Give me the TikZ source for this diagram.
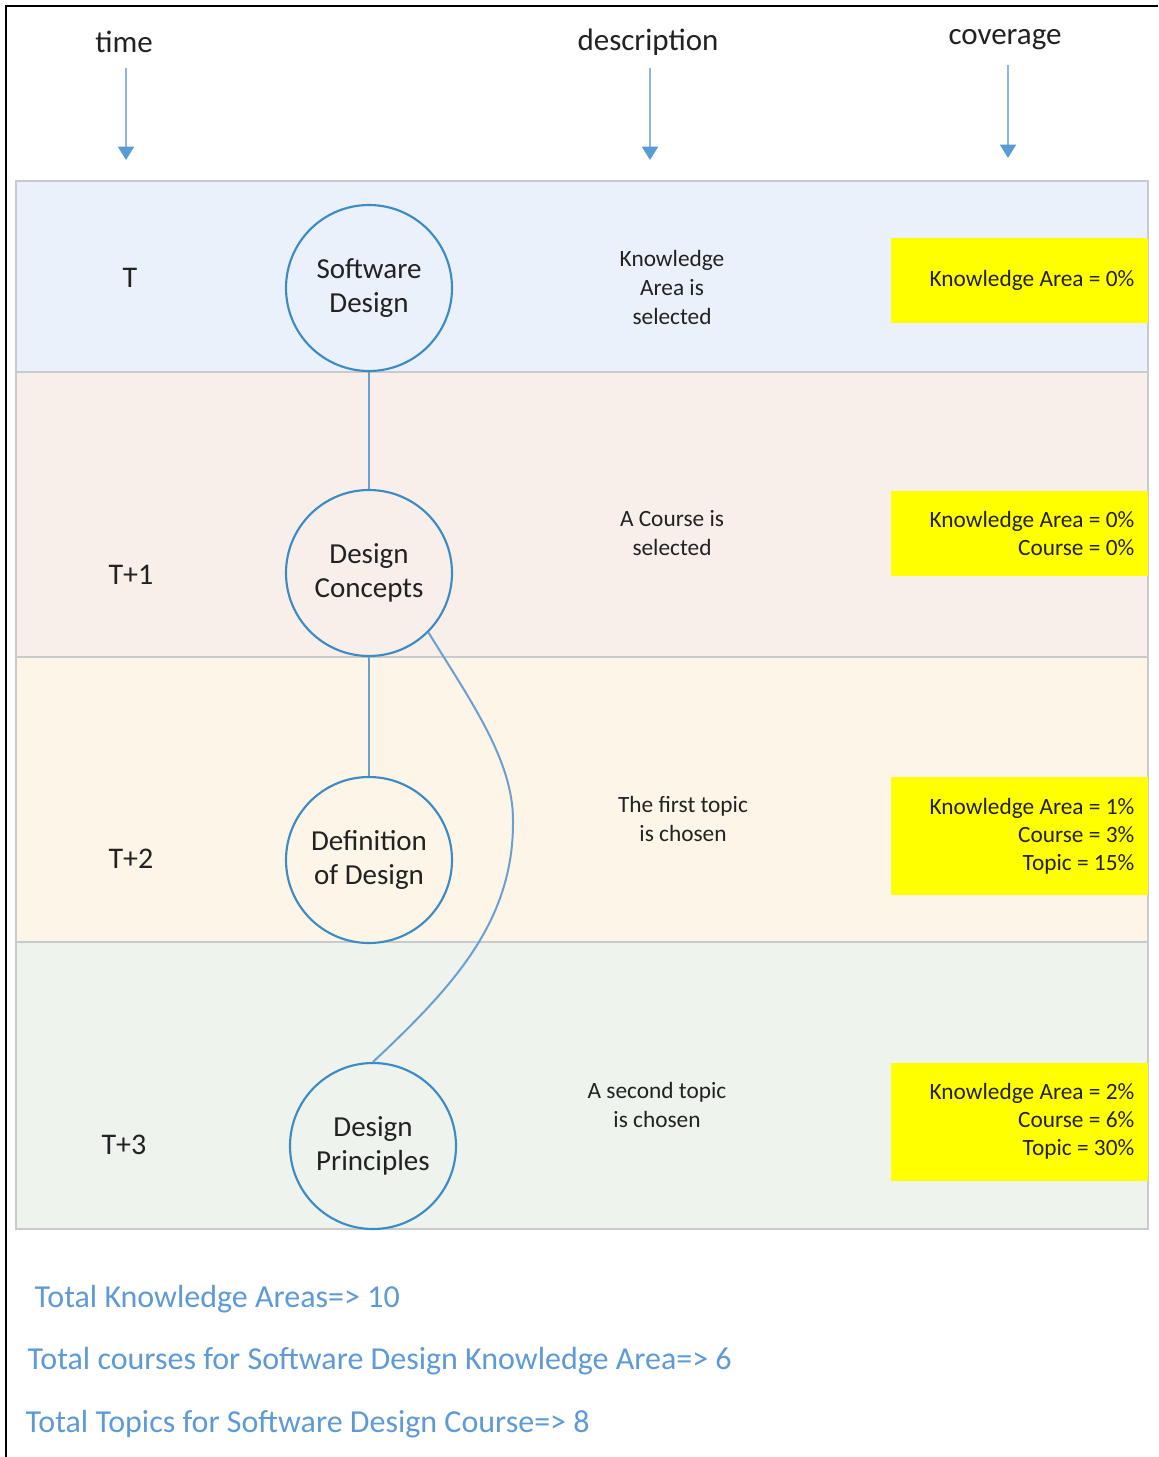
\documentclass[tikz,border=0pt]{standalone}
\usepackage{fontspec}
\setmainfont{Carlito}
\usetikzlibrary{arrows.meta}
\definecolor{bandblue}{HTML}{EAF1FA}
\definecolor{bandpink}{HTML}{F8EFEA}
\definecolor{bandcream}{HTML}{FDF5E7}
\definecolor{bandgreen}{HTML}{EEF3EE}
\definecolor{bandedge}{HTML}{C8CACB}
\definecolor{ringblue}{HTML}{3D8BC4}
\definecolor{linkblue}{HTML}{6A9FD0}
\definecolor{arrowline}{HTML}{8DB4E2}
\definecolor{arrowhead}{HTML}{5B9BD5}
\definecolor{notecol}{HTML}{5E9AD6}
\definecolor{hilite}{HTML}{FFFF00}
\definecolor{ink}{HTML}{222222}
\tikzset{
  band/.style={draw=bandedge, line width=1.5},
  topic/.style={circle, draw=ringblue, line width=1.6, minimum size=166*0.75pt,
    inner sep=0pt, align=center, text=ink, font=\fontsize{21.75}{26}\selectfont},
  header/.style={text=ink, font=\fontsize{23.25}{28}\selectfont},
  timelbl/.style={text=ink, font=\fontsize{22.5}{27}\selectfont},
  desc/.style={text=ink, align=center, font=\fontsize{17.5}{21.75}\selectfont},
  covtext/.style={text=ink, align=right, anchor=east, font=\fontsize{17.5}{21}\selectfont},
  note/.style={text=notecol, anchor=west, font=\fontsize{24}{29}\selectfont},
  downarrow/.style={draw=arrowline, line width=1.5,
    -{Triangle[width=12pt,length=10pt,fill=arrowhead,color=arrowhead]}},
  link/.style={draw=linkblue, line width=1.5}
}
\begin{document}
\begin{tikzpicture}[x=0.75pt, y=-0.75pt]
\useasboundingbox (0,0) rectangle (1158,1457);
\fill[white] (0,0) rectangle (1158,1457);

% outer frame (top and left edges)
\draw[line width=2.2, black] (6,1457) -- (6,6) -- (1158,6);

% four time bands
\filldraw[band, fill=bandblue]  (16,181) rectangle (1148,372);
\filldraw[band, fill=bandpink]  (16,372) rectangle (1148,657);
\filldraw[band, fill=bandcream] (16,657) rectangle (1148,942);
\filldraw[band, fill=bandgreen] (16,942) rectangle (1148,1229);

% column headers with arrows
\node[header] (htime) at (124,42) {time};
\node[header] (hdesc) at (648,42) {description};
\node[header] (hcov)  at (1005,40) {coverage};
\coordinate (atime) at (126,160);
\coordinate (adesc) at (650,160);
\coordinate (acov)  at (1008,158);
\draw[downarrow] (126,68) -- (atime);
\draw[downarrow] (650,68) -- (adesc);
\draw[downarrow] (1008,65) -- (acov);

% time labels
\node[timelbl] (t0) at (130,278) {T};
\node[timelbl] (t1) at (131,575) {T+1};
\node[timelbl] (t2) at (131,859) {T+2};
\node[timelbl] (t3) at (124,1145) {T+3};

% topic circles
\node[topic, fill=bandblue]  (sd) at (369,288)  {Software\\Design};
\node[topic, fill=bandpink]  (dc) at (369,573)  {Design\\Concepts};
\node[topic, fill=bandcream] (dd) at (369,860)  {Definition\\of Design};
\node[topic, fill=bandgreen] (dp) at (373,1146) {Design\\Principles};

% connectors between topics
\draw[link] (sd.south) -- (dc.north);
\draw[link] (dc.south) -- (dd.north);
\coordinate (bend) at (513,820);
\draw[link] (dc.-45) .. controls (470,700) and (513,760) .. (bend)
            .. controls (514,920) and (455,985) .. (dp.north);

% descriptions
\node[desc] (d0) at (672,287) {Knowledge\\Area is\\selected};
\node[desc] (d1) at (672,533) {A Course is\\selected};
\node[desc] (d2) at (683,819) {The first topic\\is chosen};
\node[desc] (d3) at (657,1105) {A second topic\\is chosen};

% coverage boxes
\fill[hilite] (891,238) rectangle (1148,323);
\fill[hilite] (891,491) rectangle (1148,576);
\fill[hilite] (891,777) rectangle (1148,895);
\fill[hilite] (891,1063) rectangle (1148,1181);
\node[covtext] (c0) at (1139,280) {Knowledge Area = 0\%};
\node[covtext] (c1) at (1139,533) {Knowledge Area = 0\%\\Course = 0\%};
\node[covtext] (c2) at (1139,836) {Knowledge Area = 1\%\\Course = 3\%\\Topic = 15\%};
\node[covtext] (c3) at (1139,1121) {Knowledge Area = 2\%\\Course = 6\%\\Topic = 30\%};

% totals
\node[note] (n0) at (30,1299) {Total Knowledge Areas=> 10};
\node[note] (n1) at (23,1361) {Total courses for Software Design Knowledge Area=> 6};
\node[note] (n2) at (21,1424) {Total Topics for Software Design Course=> 8};
\end{tikzpicture}
\end{document}
